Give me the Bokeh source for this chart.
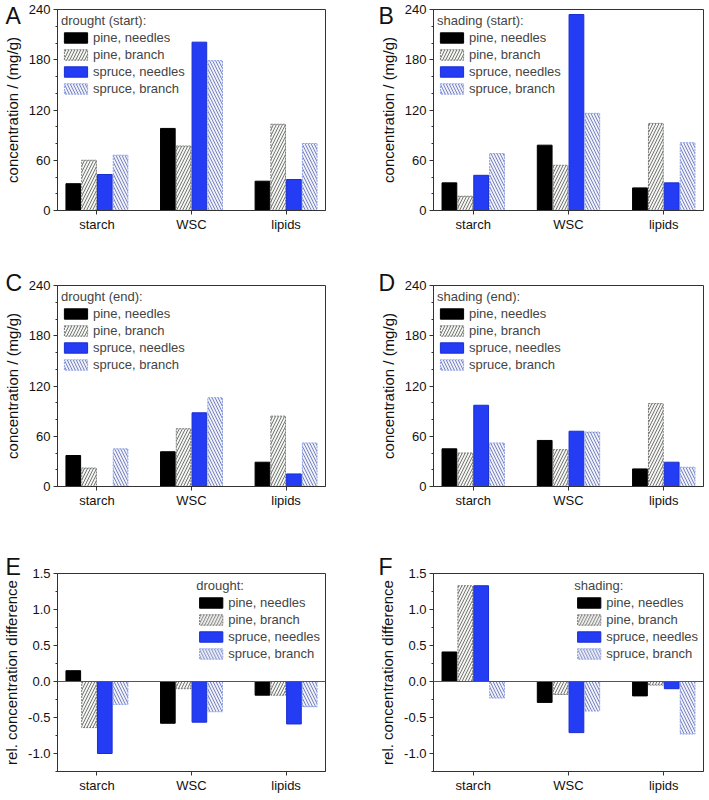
import numpy as np
from bokeh.plotting import figure
from bokeh.models import Range1d, FixedTicker, SingleIntervalTicker, PrintfTickFormatter, Span, Title
from bokeh.layouts import column, row
from bokeh.embed import file_html
from bokeh.resources import INLINE

categories = ["starch", "WSC", "lipids"]
series_names = ["pine, needles", "pine, branch", "spruce, needles", "spruce, branch"]

# A: drought (start), mg/g
a_pine_needles = [32, 98, 35]
a_pine_branch = [60, 77, 103]
a_spruce_needles = [43, 201, 37]
a_spruce_branch = [66, 179, 80]

# B: shading (start), mg/g
b_pine_needles = [33, 78, 27]
b_pine_branch = [17, 54, 104]
b_spruce_needles = [42, 234, 33]
b_spruce_branch = [68, 116, 81]

# C: drought (end), mg/g
c_pine_needles = [37, 41.5, 29]
c_pine_branch = [22, 69, 84]
c_spruce_needles = [0, 88, 15]
c_spruce_branch = [45, 106, 52]

# D: shading (end), mg/g
d_pine_needles = [45, 55, 21]
d_pine_branch = [40, 44, 99]
d_spruce_needles = [97, 66, 29]
d_spruce_branch = [52, 65, 23]

# E: drought, relative difference
e_pine_needles = [0.15, -0.58, -0.19]
e_pine_branch = [-0.64, -0.10, -0.19]
e_spruce_needles = [-1.0, -0.565, -0.59]
e_spruce_branch = [-0.32, -0.42, -0.35]

# F: shading, relative difference
f_pine_needles = [0.41, -0.29, -0.20]
f_pine_branch = [1.33, -0.18, -0.05]
f_spruce_needles = [1.33, -0.71, -0.10]
f_spruce_branch = [-0.23, -0.41, -0.73]

FONT = "Liberation Sans"
AX = "#333333"

styles = [
    dict(fill_color="#000000", line_color="#000000"),
    dict(fill_color="#f3f5f1", line_color="#7a7a7a", line_dash="2 1",
         hatch_pattern="right_diagonal_line", hatch_color="#555555", hatch_scale=6, hatch_weight=0.8),
    dict(fill_color="#233cf4", line_color="#1a2ed0"),
    dict(fill_color="#eef1fb", line_color="#8ea2ea", line_dash="2 1",
         hatch_pattern="left_diagonal_line", hatch_color="#5a66a8", hatch_scale=6, hatch_weight=0.8),
]
offsets = [-0.25, -0.0833, 0.0833, 0.25]
BAR_W = 0.155
X0, X1 = 0.583, 3.417

LEFT_B, LEFT_FRAME, LEFT_R = 53, 272, 51
RIGHT_B, RIGHT_FRAME, RIGHT_R = 56, 271, 2
FRAME_H = 201
ROWS = [dict(top=9, bottom=32), dict(top=43, bottom=32), dict(top=55, bottom=21)]
# letter title standoff (negative: text bottom sits -standoff/2 px below the frame top)
LETTER_STANDOFF = [-38, -20, -12]


def make_panel(letter, legend_title, values, rel, is_left, row_idx):
    r = ROWS[row_idx]
    h = r["top"] + FRAME_H + r["bottom"]
    bl = LEFT_B if is_left else RIGHT_B
    fw = LEFT_FRAME if is_left else RIGHT_FRAME
    br = LEFT_R if is_left else RIGHT_R
    w = bl + fw + br
    y0, y1 = (-1.25, 1.5) if rel else (0, 240)
    p = figure(width=w, height=h, x_range=Range1d(X0, X1), y_range=Range1d(y0, y1),
               output_backend="svg", toolbar_location=None,
               min_border_left=bl, min_border_right=br,
               min_border_top=r["top"], min_border_bottom=r["bottom"])
    p.xgrid.grid_line_color = None
    p.ygrid.grid_line_color = None
    p.outline_line_color = AX
    p.outline_line_width = 1
    p.background_fill_color = "white"
    p.border_fill_color = "white"

    xs0 = np.arange(1, len(categories) + 1)
    for name, vals, off, st in zip(series_names, values, offsets, styles):
        p.vbar(x=xs0 + off, top=vals, bottom=0, width=BAR_W, legend_label=name, **st)

    if rel:
        p.add_layout(Span(location=0, dimension="width", line_color="#555555", line_width=1))

    xa = p.xaxis[0]
    xa.ticker = FixedTicker(ticks=list(xs0))
    xa.major_label_overrides = {int(i): c for i, c in zip(xs0, categories)}
    xa.major_tick_out = 4
    xa.major_tick_in = 0
    xa.minor_tick_line_color = None
    xa.major_label_standoff = 2
    xa.major_label_text_font = FONT
    xa.major_label_text_font_size = "13px"
    xa.major_label_text_color = "#111111"
    xa.axis_line_color = AX
    xa.major_tick_line_color = AX

    ya = p.yaxis[0]
    if rel:
        ya.ticker = SingleIntervalTicker(interval=0.5, num_minor_ticks=2)
        ya.formatter = PrintfTickFormatter(format="%.1f")
        ya.axis_label = "rel. concentration difference"
    else:
        ya.ticker = SingleIntervalTicker(interval=60, num_minor_ticks=3)
        ya.axis_label = "concentration / (mg/g)"
    ya.major_tick_out = 4
    ya.major_tick_in = 0
    ya.minor_tick_out = 2
    ya.minor_tick_in = 0
    ya.major_label_standoff = 3
    ya.axis_label_standoff = 5
    ya.major_label_text_font = FONT
    ya.major_label_text_font_size = "13px"
    ya.major_label_text_color = "#111111"
    ya.axis_label_text_font = FONT
    ya.axis_label_text_font_size = "15px"
    ya.axis_label_text_font_style = "normal"
    ya.axis_label_text_color = "#111111"
    ya.axis_line_color = AX
    ya.major_tick_line_color = AX
    ya.minor_tick_line_color = AX

    lg = p.legend[0]
    lg.title = legend_title
    lg.title_text_font = FONT
    lg.title_text_font_style = "normal"
    lg.title_text_font_size = "13px"
    lg.title_standoff = 2
    lg.label_text_font = FONT
    lg.label_text_font_size = "13px"
    lg.glyph_width = 29
    lg.glyph_height = 13
    lg.label_height = 13
    lg.spacing = 2
    lg.padding = 2
    lg.label_standoff = 3
    lg.background_fill_alpha = 0
    lg.border_line_alpha = 0
    if rel:
        lg.location = "top_right"
        lg.margin = 3
    else:
        lg.location = "top_left"
        lg.margin = 2

    # panel letter as a title in the top panel, shifted left of the frame
    p.add_layout(Title(text=letter, align="left", vertical_align="bottom",
                       offset=-(bl - 1), standoff=LETTER_STANDOFF[row_idx],
                       text_font=FONT, text_font_size="23px", text_font_style="normal",
                       text_color="#111111"), "above")
    return p


pa = make_panel("A", "drought (start):", [a_pine_needles, a_pine_branch, a_spruce_needles, a_spruce_branch], False, True, 0)
pb = make_panel("B", "shading (start):", [b_pine_needles, b_pine_branch, b_spruce_needles, b_spruce_branch], False, False, 0)
pc = make_panel("C", "drought (end):", [c_pine_needles, c_pine_branch, c_spruce_needles, c_spruce_branch], False, True, 1)
pd = make_panel("D", "shading (end):", [d_pine_needles, d_pine_branch, d_spruce_needles, d_spruce_branch], False, False, 1)
pe = make_panel("E", "drought:", [e_pine_needles, e_pine_branch, e_spruce_needles, e_spruce_branch], True, True, 2)
pf = make_panel("F", "shading:", [f_pine_needles, f_pine_branch, f_spruce_needles, f_spruce_branch], True, False, 2)

layout = column(row(pa, pb, spacing=0), row(pc, pd, spacing=0), row(pe, pf, spacing=0), spacing=0)

open("out.html", "w").write(file_html(layout, INLINE))
